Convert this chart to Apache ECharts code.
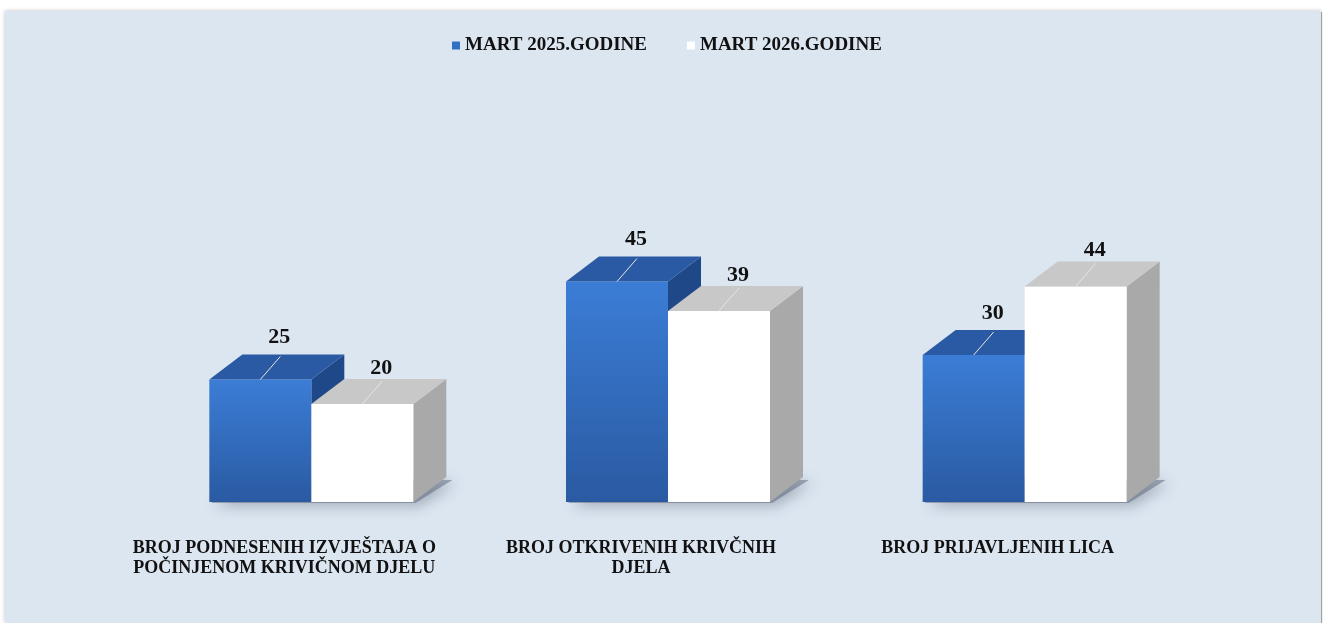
<!DOCTYPE html>
<html>
<head>
<meta charset="utf-8">
<script src="https://cdn.jsdelivr.net/npm/echarts@6/dist/echarts.min.js"></script>
<style>
  html, body { margin: 0; padding: 0; background: #ffffff; }
  #chart { width: 1323px; height: 623px; }
</style>
</head>
<body>
<div id="chart"></div>
<script>
// categories and the two yearly series
const categories = [
    'BROJ PODNESENIH IZVJEŠTAJA O\nPOČINJENOM KRIVIČNOM DJELU',
    'BROJ OTKRIVENIH KRIVČNIH\nDJELA',
    'BROJ PRIJAVLJENIH LICA',
];
const mart2025 = [25, 45, 30];
const mart2026 = [20, 39, 44];

const seriesNames = ['MART 2025.GODINE', 'MART 2026.GODINE'];

const FONT = '"Liberation Serif", "DejaVu Serif", serif';
const DX = 33, DY = -25; // fake depth of the boxes

const chart = echarts.init(document.getElementById('chart'));

const looks = [
    {
        front: new echarts.graphic.LinearGradient(0, 0, 0, 1, [
            { offset: 0, color: '#3b7dd6' },
            { offset: 1, color: '#2a5aa2' },
        ]),
        top: '#2a5aa4',
        side: '#1f4889',
        labelDy: -42,
    },
    {
        front: '#ffffff',
        top: '#c8c8c8',
        side: '#a9a9a9',
        labelDy: -36,
    },
];

function barRenderer(side) {
    const look = looks[side];
    return function (params, api) {
        const val = api.value(1);
        const topPt = api.coord([api.value(0), val]);
        const basePt = api.coord([api.value(0), 0]);
        const w = api.size([1, 0])[0] * 0.286;
        const x0 = side === 0 ? topPt[0] - w : topPt[0];
        const x1 = x0 + w;
        const top = topPt[1];
        const bottom = basePt[1];
        const cx = (x0 + x1) / 2;
        return {
            type: 'group',
            children: [
                {
                    type: 'polygon',
                    shape: { points: [[x1, top], [x1 + DX, top + DY], [x1 + DX, bottom + DY], [x1, bottom]] },
                    style: { fill: look.side },
                },
                {
                    type: 'rect',
                    shape: { x: x0, y: top, width: w, height: bottom - top },
                    style: { fill: look.front },
                },
                {
                    type: 'polygon',
                    shape: { points: [[x0, top], [x1, top], [x1 + DX, top + DY], [x0 + DX, top + DY]] },
                    style: { fill: look.top },
                },
                {
                    type: 'line',
                    shape: { x1: cx, y1: top, x2: cx + 20, y2: top - 23 },
                    style: { stroke: '#e6e6e6', lineWidth: 1 },
                },
                {
                    type: 'text',
                    style: {
                        text: String(val),
                        x: cx + 19,
                        y: top + look.labelDy,
                        align: 'center',
                        verticalAlign: 'middle',
                        font: 'bold 22px ' + FONT,
                        fill: '#111111',
                    },
                },
            ],
        };
    };
}

// soft floor shadow under each pair of boxes
function shadowRenderer(params, api) {
    const c = api.coord([api.value(0), 0]);
    const w = api.size([1, 0])[0] * 0.286;
    const x0 = c[0] - w, x1 = c[0] + w, b = c[1];
    return {
        type: 'polygon',
        shape: { points: [[x0 + 2, b + 1], [x1 + 2, b + 1], [x1 + DX + 6, b + DY + 3], [x0 + DX, b + DY]] },
        style: {
            fill: 'rgba(90,100,120,0.5)',
            shadowBlur: 14,
            shadowColor: 'rgba(60,70,90,0.7)',
            shadowOffsetX: 4,
            shadowOffsetY: 3,
        },
    };
}

const option = {
    backgroundColor: '#ffffff',
    animation: false,
    graphic: [
        {
            type: 'rect',
            z: -10,
            shape: { x: 5, y: 11, width: 1316, height: 612 },
            style: { fill: '#dce6f1', shadowBlur: 4, shadowColor: 'rgba(0,0,0,0.25)' },
        },
        {
            type: 'line',
            z: -9,
            shape: { x1: 1321.5, y1: 12, x2: 1321.5, y2: 623 },
            style: { stroke: '#a0a0a0', lineWidth: 1 },
        },
    ],
    legend: {
        data: seriesNames,
        left: 447,
        top: 31,
        icon: 'rect',
        itemWidth: 8,
        itemHeight: 8,
        itemGap: 40,
        textStyle: { fontFamily: FONT, fontWeight: 'bold', fontSize: 19, color: '#111111' },
    },
    grid: { left: 133, right: 120, top: 208, bottom: 121 },
    xAxis: {
        type: 'category',
        data: categories,
        axisLine: { show: false },
        axisTick: { show: false },
        axisLabel: {
            margin: 36,
            interval: 0,
            padding: [0, 54, 0, 0],
            fontFamily: FONT,
            fontWeight: 'bold',
            fontSize: 18,
            lineHeight: 20,
            color: '#111111',
        },
    },
    yAxis: {
        type: 'value',
        min: 0,
        max: 60,
        show: false,
        splitLine: { show: false },
    },
    series: [
        {
            name: 'floor',
            type: 'custom',
            z: 1,
            silent: true,
            renderItem: shadowRenderer,
            data: categories.map((_, i) => [i, 0]),
            encode: { x: 0, y: 1 },
        },
        {
            name: seriesNames[0],
            type: 'custom',
            z: 2,
            itemStyle: { color: '#3270c4' },
            renderItem: barRenderer(0),
            data: mart2025.map((v, i) => [i, v]),
            encode: { x: 0, y: 1 },
        },
        {
            name: seriesNames[1],
            type: 'custom',
            z: 3,
            itemStyle: { color: '#ffffff' },
            renderItem: barRenderer(1),
            data: mart2026.map((v, i) => [i, v]),
            encode: { x: 0, y: 1 },
        },
    ],
};

chart.setOption(option);
</script>
</body>
</html>
